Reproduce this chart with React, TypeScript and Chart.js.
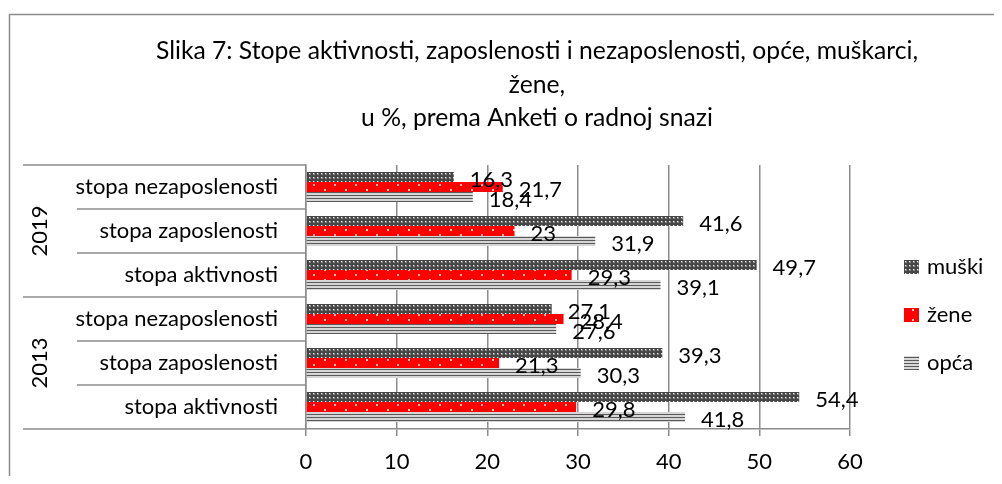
import React, { useEffect, useRef } from "react";
import { Chart, registerables } from "chart.js";
Chart.register(...registerables);

const categories = ["stopa nezaposlenosti", "stopa zaposlenosti", "stopa aktivnosti", "stopa nezaposlenosti", "stopa zaposlenosti", "stopa aktivnosti"];
const years = ["2019", "2013"];
const yearSpans = [3, 3];
const seriesNames = ["muški", "žene", "opća"];
const muski = [16.3, 41.6, 49.7, 27.1, 39.3, 54.4];
const zene = [21.7, 23, 29.3, 28.4, 21.3, 29.8];
const opca = [18.4, 31.9, 39.1, 27.6, 30.3, 41.8];
const xTickValues = [0, 10, 20, 30, 40, 50, 60];
const titleLines = [
  "Slika 7: Stope aktivnosti, zaposlenosti i nezaposlenosti, opće, muškarci,",
  "žene,",
  "u %, prema Anketi o radnoj snazi",
];

const FONT = "Lato, 'Open Sans', sans-serif";
const FS = 22;
const GRID = "#8c8c8c";

function makeTile(w: number, h: number, draw: (c: CanvasRenderingContext2D) => void) {
  const cv = document.createElement("canvas");
  cv.width = w;
  cv.height = h;
  const c = cv.getContext("2d")!;
  draw(c);
  return c.createPattern(cv, "repeat")!;
}

function patterns() {
  const m = makeTile(4, 4, (c) => {
    c.fillStyle = "#464646";
    c.fillRect(0, 0, 4, 4);
    c.fillStyle = "#8a8a8a";
    c.fillRect(1, 1, 2, 2);
    c.fillStyle = "#e8e8e8";
    c.fillRect(1, 1, 1, 1);
  });
  const z = makeTile(21, 10, (c) => {
    c.fillStyle = "#ff0000";
    c.fillRect(0, 0, 21, 10);
    c.fillStyle = "#ffc0c0";
    c.fillRect(1, 1, 2, 2);
    c.fillStyle = "#ffb0b0";
    c.fillRect(11, 6, 2, 2);
  });
  const o = makeTile(1, 3, (c) => {
    c.fillStyle = "#d6d6d6";
    c.fillRect(0, 0, 1, 3);
    c.fillStyle = "#5a5a5a";
    c.fillRect(0, 1, 1, 1);
  });
  return [m, z, o];
}

const fmt = (v: number) => String(v).replace(".", ",");

const decorPlugin = {
  id: "decor",
  beforeDraw(chart: any) {
    const c = chart.ctx;
    c.save();
    c.strokeStyle = GRID;
    c.lineWidth = 1.5;
    c.beginPath();
    c.moveTo(1.5, chart.height + 10);
    c.lineTo(1.5, 6.5);
    c.lineTo(chart.width + 10, 6.5);
    c.stroke();
    c.restore();
  },
  afterDraw(chart: any) {
    const c = chart.ctx;
    const area = chart.chartArea;
    c.save();
    // title
    c.fillStyle = "#000";
    c.font = `24.7px ${FONT}`;
    c.textAlign = "center";
    c.textBaseline = "middle";
    const tY = [43, 77, 110];
    titleLines.forEach((t, i) => c.fillText(t, 529, tY[i]));

    // category separators
    const n = categories.length;
    const band = (area.bottom - area.top) / n;
    c.strokeStyle = GRID;
    c.lineWidth = 1.5;
    let idx = 0;
    const yearBounds = new Set<number>([0]);
    yearSpans.forEach((s) => {
      idx += s;
      yearBounds.add(idx);
    });
    for (let i = 0; i <= n; i++) {
      const y = area.top + i * band;
      const x0 = yearBounds.has(i) ? 15 : 69;
      c.beginPath();
      c.moveTo(x0, y);
      c.lineTo(area.left, y);
      c.stroke();
    }
    // year labels
    c.font = `${FS}px ${FONT}`;
    let start = 0;
    years.forEach((yr, i) => {
      const yc = area.top + (start + yearSpans[i] / 2) * band;
      start += yearSpans[i];
      c.save();
      c.translate(31.5, yc);
      c.rotate(-Math.PI / 2);
      c.textAlign = "center";
      c.textBaseline = "middle";
      c.fillStyle = "#000";
      c.fillText(yr, 0, 0);
      c.restore();
    });

    // data labels
    c.textAlign = "left";
    c.textBaseline = "middle";
    c.fillStyle = "#000";
    chart.data.datasets.forEach((ds: any, di: number) => {
      const meta = chart.getDatasetMeta(di);
      meta.data.forEach((bar: any, bi: number) => {
        c.fillText(fmt(ds.data[bi]), bar.x + 16, bar.y + 3);
      });
    });

    // legend
    const ly = [259, 307, 355];
    chart.data.datasets.forEach((ds: any, di: number) => {
      c.fillStyle = ds.backgroundColor;
      c.fillRect(896, ly[di] - 7, 15, 14);
      c.fillStyle = "#000";
      c.fillText(ds.label, 919, ly[di]);
    });
    c.restore();
  },
};

export default function App() {
  const ref = useRef<HTMLCanvasElement>(null);
  useEffect(() => {
    const [pm, pz, po] = patterns();
    Chart.defaults.font.family = FONT;
    Chart.defaults.font.size = FS;
    Chart.defaults.color = "#000";
    const chart = new Chart(ref.current!, {
      type: "bar",
      data: {
        labels: categories,
        datasets: [
          { label: seriesNames[0], data: muski, backgroundColor: pm as any },
          { label: seriesNames[1], data: zene, backgroundColor: pz as any },
          { label: seriesNames[2], data: opca, backgroundColor: po as any },
        ],
      },
      options: {
        indexAxis: "y",
        responsive: false,
        animation: false,
        events: [],
        datasets: { bar: { categoryPercentage: 0.68, barPercentage: 1 } },
        layout: { padding: { top: 157, right: 152, left: 0, bottom: 0 } },
        plugins: { legend: { display: false }, title: { display: false }, tooltip: { enabled: false } },
        scales: {
          x: {
            min: 0,
            max: 60,
            afterBuildTicks: (s: any) => {
              s.ticks = xTickValues.map((v) => ({ value: v }));
            },
            afterFit: (s: any) => {
              s.height = 47;
            },
            grid: { color: GRID, lineWidth: 1.5, tickLength: 7, drawTicks: true },
            border: { color: GRID, width: 1.5 },
            ticks: { padding: 13, font: { size: FS, family: FONT }, color: "#000" },
          },
          y: {
            afterFit: (s: any) => {
              s.width = 298;
            },
            grid: { display: false, drawTicks: false },
            border: { display: true, color: GRID, width: 1.5 },
            ticks: { padding: 28, font: { size: FS, family: FONT }, color: "#000" },
          },
        },
      },
      plugins: [decorPlugin],
    });
    return () => chart.destroy();
  }, []);
  return (
    <div style={{ position: "relative", width: 994, height: 468, overflow: "hidden" }}>
      <canvas ref={ref} width={994} height={468} style={{ display: "block" }} />
    </div>
  );
}
